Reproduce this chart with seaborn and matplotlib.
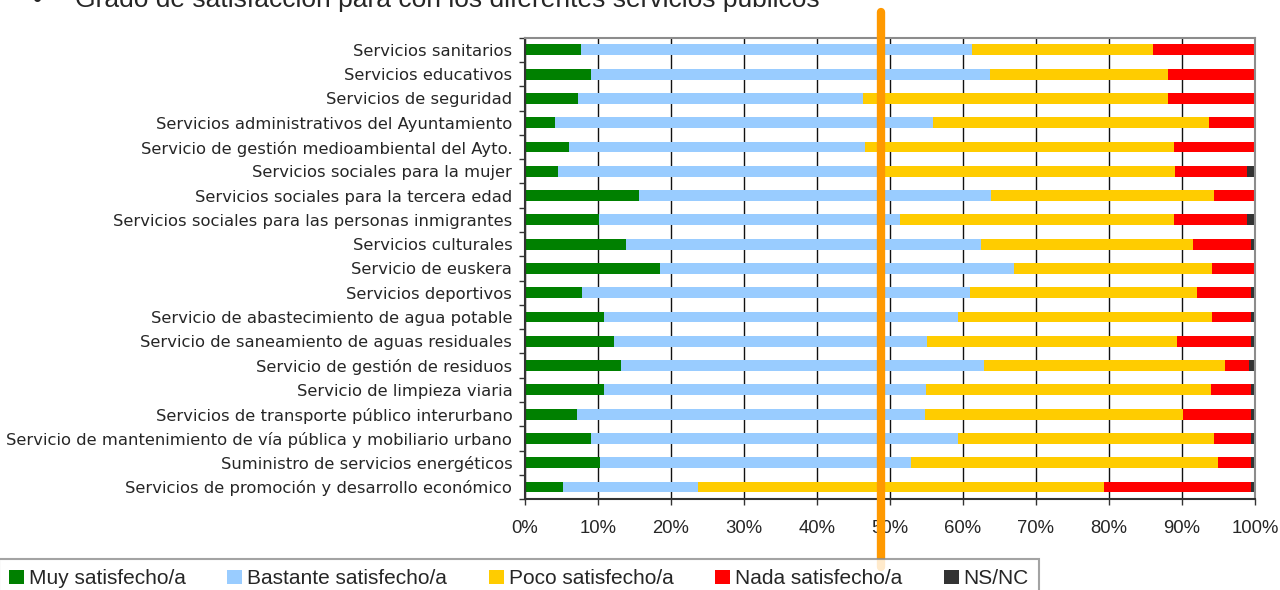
import matplotlib
matplotlib.use("Agg")
import matplotlib.pyplot as plt
from matplotlib.patches import Patch
import numpy as np
import pandas as pd
import seaborn as sns

servicios = [
    "Servicios sanitarios",
    "Servicios educativos",
    "Servicios de seguridad",
    "Servicios administrativos del Ayuntamiento",
    "Servicio de gestión medioambiental del Ayto.",
    "Servicios sociales para la mujer",
    "Servicios sociales para la tercera edad",
    "Servicios sociales para las personas inmigrantes",
    "Servicios culturales",
    "Servicio de euskera",
    "Servicios deportivos",
    "Servicio de abastecimiento de agua potable",
    "Servicio de saneamiento de aguas residuales",
    "Servicio de gestión de residuos",
    "Servicio de limpieza viaria",
    "Servicios de transporte público interurbano",
    "Servicio de mantenimiento de vía pública y mobiliario urbano",
    "Suministro de servicios energéticos",
    "Servicios de promoción y desarrollo económico",
]
muy = [7.7, 9.0, 7.3, 4.1, 6.0, 4.5, 15.6, 10.1, 13.8, 18.5, 7.9, 10.8, 12.2, 13.2, 10.8, 7.1, 9.0, 10.3, 5.2]
bastante = [53.5, 54.7, 39.0, 51.8, 40.6, 44.5, 48.2, 41.3, 48.7, 48.5, 53.1, 48.5, 42.9, 49.7, 44.1, 47.7, 50.3, 42.6, 18.5]
poco = [24.8, 24.4, 41.8, 37.8, 42.3, 40.0, 30.6, 37.5, 29.0, 27.1, 31.1, 34.8, 34.2, 33.0, 39.1, 35.3, 35.1, 42.0, 55.6]
nada = [14.0, 11.9, 11.9, 6.3, 11.1, 9.9, 5.6, 10.0, 8.0, 5.9, 7.4, 5.4, 10.2, 3.3, 5.5, 9.4, 5.1, 4.6, 20.2]
nsnc = [0.0, 0.0, 0.0, 0.0, 0.0, 1.1, 0.0, 1.1, 0.5, 0.0, 0.5, 0.5, 0.5, 0.8, 0.5, 0.5, 0.5, 0.5, 0.5]

categorias = ["Muy satisfecho/a", "Bastante satisfecho/a", "Poco satisfecho/a",
              "Nada satisfecho/a", "NS/NC"]
colores = ["#008000", "#99CCFF", "#FFCC00", "#FF0000", "#333333"]
media = 48.8  # orange reference line

df = pd.DataFrame({"servicio": servicios, categorias[0]: muy, categorias[1]: bastante,
                   categorias[2]: poco, categorias[3]: nada, categorias[4]: nsnc})
acum = df[categorias].cumsum(axis=1)

sns.set_style("white")
plt.rcParams["font.family"] = ["Liberation Sans", "DejaVu Sans"]

fig = plt.figure(figsize=(12.8, 5.9), dpi=100)
ax = fig.add_axes([0.41, 0.154, 0.5705, 0.782])

# stacked bars: draw cumulative totals from the longest down
for cat, col in reversed(list(zip(categorias, colores))):
    sns.barplot(x=acum[cat], y=df["servicio"], color=col, orient="h",
                width=0.45, ax=ax, linewidth=0, saturation=1)

ax.set_xlim(0, 100)
ax.set_ylim(len(servicios) - 0.5, -0.5)
ax.set_xticks(np.arange(0, 101, 10))
ax.set_xticklabels([f"{v}%" for v in range(0, 101, 10)], fontsize=13.3)
ax.set_yticks(range(len(servicios)))
ax.set_yticklabels(servicios, fontsize=11.8, family="DejaVu Sans")
ax.set_yticks(np.arange(-0.5, len(servicios), 1), minor=True)
ax.tick_params(axis="y", which="major", length=0, pad=9)
ax.tick_params(axis="y", which="minor", length=4, width=1, color="#333333", direction="out", left=True)
ax.tick_params(axis="x", length=4, width=1, color="#333333", direction="out", bottom=True, pad=11)
ax.set_xlabel("")
ax.set_ylabel("")
ax.grid(axis="x", color="#111111", linewidth=1)
ax.set_axisbelow(True)
for side in ["left", "bottom"]:
    ax.spines[side].set_color("#333333")
    ax.spines[side].set_linewidth(1.5)
for side in ["top", "right"]:
    ax.spines[side].set_color("#8c8c8c")
    ax.spines[side].set_linewidth(1.5)

ax.axvline(media, ymin=-0.148, ymax=1.055, color="#FF9900", linewidth=6, clip_on=False, zorder=5)

fig.text(0.026, 0.988, "•", fontsize=19, va="baseline")
fig.text(0.0585, 0.988, "Grado de satisfacción para con los diferentes servicios públicos",
         fontsize=19, va="baseline")

handles = [Patch(facecolor=c, edgecolor="none") for c in colores]
leg = fig.legend(handles, categorias, loc="upper left", bbox_to_anchor=(-0.001, 0.0525),
                 ncol=5, frameon=True, fancybox=False, fontsize=15, handlelength=0.71,
                 handleheight=0.67, handletextpad=0.24, columnspacing=2.0,
                 borderaxespad=0, borderpad=0.5)
leg.get_frame().set_edgecolor("#8c8c8c")
leg.get_frame().set_linewidth(1.5)

fig.savefig("out.png", dpi=100)
